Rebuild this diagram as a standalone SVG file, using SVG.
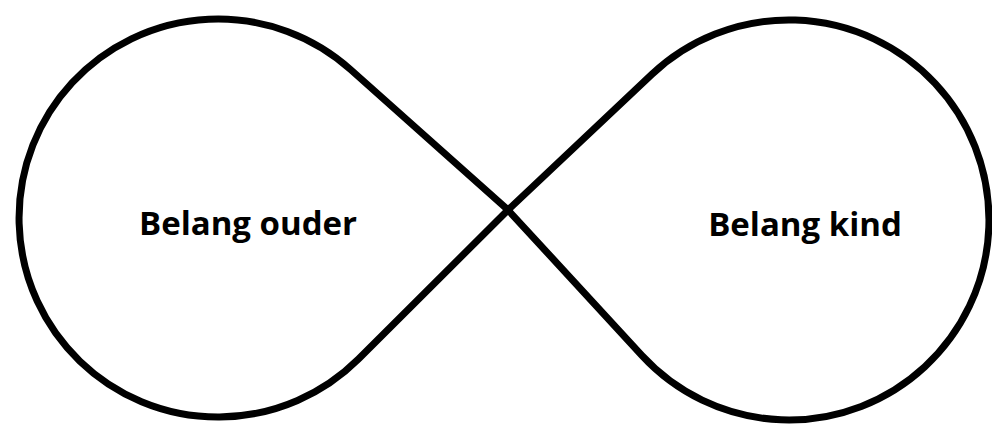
<svg xmlns="http://www.w3.org/2000/svg" width="992" height="424" viewBox="0 0 992 424">
<style>
.shape{fill:none;stroke:#000;stroke-width:7;stroke-linejoin:round}
.lbl{font-family:"Open Sans","Liberation Sans",sans-serif;font-weight:bold;font-size:33px;fill:#000;text-anchor:middle}
</style>
<rect width="992" height="424" fill="#fff"/>
<g id="connectors">
<path class="shape" d="M 508 210 L 350.5 69.5 A 199 199 0 1 0 358.5 359 L 508 210 L 641.8 355.4 A 200 200 0 1 0 651.8 74.4 Z"/>
</g>
<g id="node-ouder">
<text class="lbl" x="248" y="235">Belang ouder</text>
</g>
<g id="node-kind">
<text class="lbl" x="805" y="236">Belang kind</text>
</g>
</svg>
